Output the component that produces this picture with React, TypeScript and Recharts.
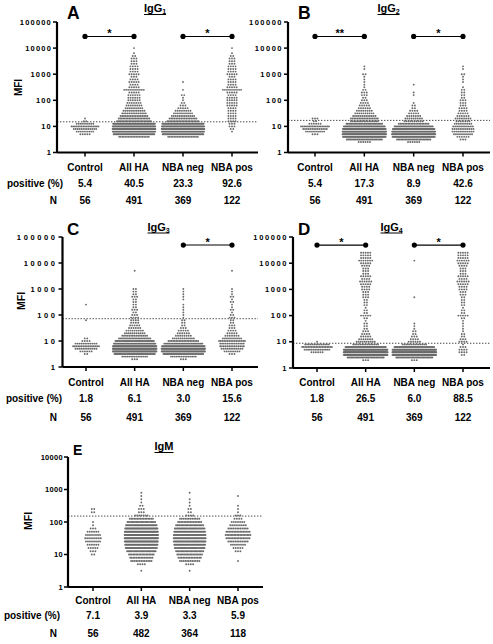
import React from 'react';
import { ScatterChart, Scatter, XAxis, YAxis, ReferenceLine, ReferenceDot } from 'recharts';

const FONT = '"Liberation Sans", Arial, Helvetica, sans-serif';

const CATEGORIES = ['Control', 'All HA', 'NBA neg', 'NBA pos'];

// Each group: log10(MFI) of the first row, then number of dots per 0.1-decade row
type Rows = { from: number; counts: number[] };

const IGG1_CONTROL: Rows = { from: 0.7, counts: [5, 9, 13, 17, 9, 2, 1] };
const IGG1_NBA_NEG: Rows = { from: 0.6, counts: [20, 45, 55, 60, 55, 48, 22, 17, 13, 10, 8, 5, 3, 2, 1, 1, 2, 0, 1, 0, 0, 1] };
const IGG1_NBA_POS: Rows = { from: 0.8, counts: [1, 2, 3, 3, 4, 4, 4, 4, 4, 4, 5, 5, 5, 5, 4, 5, 10, 5, 4, 4, 4, 3, 5, 4, 4, 4, 3, 3, 3, 2, 1, 0, 1] };

const IGG2_CONTROL: Rows = { from: 0.7, counts: [3, 10, 14, 18, 6, 2, 3] };
const IGG2_NBA_NEG: Rows = { from: 0.4, counts: [6, 25, 55, 70, 65, 50, 35, 20, 10, 9, 7, 5, 4, 2, 2, 1, 0, 0, 1, 1, 0, 0, 1] };
const IGG2_NBA_POS: Rows = { from: 0.5, counts: [3, 6, 10, 12, 12, 11, 9, 7, 8, 6, 5, 4, 4, 3, 3, 3, 2, 2, 2, 2, 1, 0, 1, 1, 1, 2, 0, 1, 1] };

const IGG3_CONTROL: Rows = { from: 0.5, counts: [2, 6, 12, 16, 12, 4, 2, 0, 0, 0, 0, 0, 0, 1, 0, 0, 0, 0, 0, 1] };
const IGG3_NBA_NEG: Rows = { from: 0.3, counts: [3, 15, 40, 70, 75, 60, 35, 20, 12, 8, 6, 5, 3, 2, 2, 2, 1, 1, 1, 1, 1, 1, 0, 1, 1, 1, 1, 1] };
const IGG3_NBA_POS: Rows = { from: 0.5, counts: [3, 8, 12, 14, 14, 16, 10, 7, 5, 4, 3, 3, 2, 2, 3, 2, 1, 2, 1, 1, 2, 1, 2, 1, 1, 1, 0, 0, 0, 0, 0, 0, 1] };

const IGG4_CONTROL: Rows = { from: 0.6, counts: [6, 15, 20, 14, 1] };
const IGG4_NBA_NEG: Rows = { from: 0.3, counts: [3, 30, 80, 100, 80, 40, 14, 6, 4, 3, 2, 2, 1, 1, 1, 0, 0, 0, 0, 0, 0, 0, 0, 0, 1, 0, 0, 0, 0, 0, 0, 0, 0, 0, 0, 0, 0, 0, 1] };
const IGG4_NBA_POS: Rows = { from: 0.5, counts: [2, 4, 4, 3, 1, 4, 3, 2, 2, 1, 1, 1, 1, 1, 2, 5, 2, 2, 1, 2, 2, 2, 2, 3, 3, 4, 4, 5, 6, 4, 5, 3, 3, 3, 4, 5, 6, 5, 5, 5] };

const IGM_CONTROL: Rows = { from: 1.0, counts: [2, 3, 5, 6, 8, 9, 8, 6, 3, 1, 1, 0, 0, 2, 2] };
const IGM_NBA_NEG: Rows = { from: 0.5, counts: [1, 0, 4, 12, 15, 18, 22, 28, 32, 36, 38, 36, 32, 28, 22, 16, 12, 4, 2, 2, 1, 1, 1, 0, 1] };
const IGM_NBA_POS: Rows = { from: 0.8, counts: [1, 0, 0, 3, 5, 8, 12, 16, 18, 16, 12, 9, 7, 4, 3, 1, 1, 1, 0, 0, 1] };

const IGG1_POSITIVE = ['5.4', '40.5', '23.3', '92.6'];
const IGG2_POSITIVE = ['5.4', '17.3', '8.9', '42.6'];
const IGG3_POSITIVE = ['1.8', '6.1', '3.0', '15.6'];
const IGG4_POSITIVE = ['1.8', '26.5', '6.0', '88.5'];
const IGM_POSITIVE = ['7.1', '3.9', '3.3', '5.9'];

const IGG_N = ['56', '491', '369', '122'];
const IGM_N = ['56', '482', '364', '118'];

const IGG1_CUTOFF = 15;
const IGG2_CUTOFF = 17;
const IGG3_CUTOFF = 72;
const IGG4_CUTOFF = 8.8;
const IGM_CUTOFF = 152;

type Sig = { from: number; to: number; label: string };
const IGG1_SIG: Sig[] = [{ from: 0, to: 1, label: '*' }, { from: 2, to: 3, label: '*' }];
const IGG2_SIG: Sig[] = [{ from: 0, to: 1, label: '**' }, { from: 2, to: 3, label: '*' }];
const IGG3_SIG: Sig[] = [{ from: 2, to: 3, label: '*' }];
const IGG4_SIG: Sig[] = [{ from: 0, to: 1, label: '*' }, { from: 2, to: 3, label: '*' }];
const IGM_SIG: Sig[] = [];

const IGG_TICKS = [1, 10, 100, 1000, 10000, 100000];
const IGM_TICKS = [1, 10, 100, 1000, 10000];

function rowsToList(rows: Rows): [number, number][] {
  return rows.counts.map((c, k) => [Math.round(rows.from * 10 + k) / 10, c] as [number, number]);
}

// All HA = NBA neg + NBA pos
function mergeRows(a: Rows, b: Rows): Rows {
  const m = new Map<number, number>();
  for (const [l, c] of [...rowsToList(a), ...rowsToList(b)]) {
    const key = Math.round(l * 10);
    m.set(key, (m.get(key) || 0) + c);
  }
  const keys = [...m.keys()];
  const lo = Math.min(...keys);
  const hi = Math.max(...keys);
  const counts: number[] = [];
  for (let k = lo; k <= hi; k++) counts.push(m.get(k) || 0);
  return { from: lo / 10, counts };
}

const NOMINAL = 2.6;

// beeswarm layout of one row: width grows with count and saturates at maxW
function swarm(rows: Rows, idx: number, pxPerUnit: number, maxW: number) {
  const pts: { x: number; y: number }[] = [];
  rowsToList(rows).forEach(([l, n]) => {
    if (!n) return;
    const width = maxW * (1 - Math.exp(-((n - 1) * NOMINAL) / maxW));
    const sp = n > 1 ? width / (n - 1) : 0;
    for (let j = 0; j < n; j++) {
      pts.push({ x: idx + ((j - (n - 1) / 2) * sp) / pxPerUnit, y: Math.pow(10, l) });
    }
  });
  return pts;
}

type PanelCfg = {
  box: { left: number; top: number; width: number; height: number };
  plot: { x0: number; x1: number; yT: number; yB: number };
  cats: [number, number];
  ticks: number[];
  groups: Rows[];
  cutoff: number;
  sig: Sig[];
  sigY: number;
  positive: string[];
  n: string[];
  labelY: [number, number, number];
  maxW: number;
  tickLS: number;
};

const PANELS: PanelCfg[] = [
  {
    box: { left: 0, top: 0, width: 262, height: 210 },
    plot: { x0: 57, x1: 258, yT: 22, yB: 152.5 },
    cats: [85, 232], ticks: IGG_TICKS,
    groups: [IGG1_CONTROL, IGG1_NBA_NEG, IGG1_NBA_POS],
    cutoff: IGG1_CUTOFF, sig: IGG1_SIG, sigY: 28000,
    positive: IGG1_POSITIVE, n: IGG_N, labelY: [167, 183, 200], maxW: 44, tickLS: 1.2,
  },
  {
    box: { left: 245, top: 0, width: 248, height: 210 },
    plot: { x0: 288, x1: 490, yT: 22, yB: 152.5 },
    cats: [315, 463], ticks: IGG_TICKS,
    groups: [IGG2_CONTROL, IGG2_NBA_NEG, IGG2_NBA_POS],
    cutoff: IGG2_CUTOFF, sig: IGG2_SIG, sigY: 28000,
    positive: IGG2_POSITIVE, n: IGG_N, labelY: [167, 183, 200], maxW: 44, tickLS: 1.5,
  },
  {
    box: { left: 0, top: 218, width: 262, height: 210 },
    plot: { x0: 62.5, x1: 258, yT: 237, yB: 367 },
    cats: [86, 232], ticks: IGG_TICKS,
    groups: [IGG3_CONTROL, IGG3_NBA_NEG, IGG3_NBA_POS],
    cutoff: IGG3_CUTOFF, sig: IGG3_SIG, sigY: 49000,
    positive: IGG3_POSITIVE, n: IGG_N, labelY: [382, 398, 417], maxW: 44, tickLS: 2.6,
  },
  {
    box: { left: 245, top: 218, width: 248, height: 210 },
    plot: { x0: 293, x1: 490, yT: 237, yB: 368 },
    cats: [317, 463], ticks: IGG_TICKS,
    groups: [IGG4_CONTROL, IGG4_NBA_NEG, IGG4_NBA_POS],
    cutoff: IGG4_CUTOFF, sig: IGG4_SIG, sigY: 49000,
    positive: IGG4_POSITIVE, n: IGG_N, labelY: [382, 398, 417], maxW: 44, tickLS: 1.6,
  },
  {
    box: { left: 0, top: 438, width: 268, height: 206 },
    plot: { x0: 68, x1: 263, yT: 457, yB: 587 },
    cats: [93, 238], ticks: IGM_TICKS,
    groups: [IGM_CONTROL, IGM_NBA_NEG, IGM_NBA_POS],
    cutoff: IGM_CUTOFF, sig: IGM_SIG, sigY: 1000,
    positive: IGM_POSITIVE, n: IGM_N, labelY: [600, 615, 633], maxW: 34, tickLS: 0.3,
  },
];

const Dot = (p: any) => <circle cx={p.cx} cy={p.cy} r={0.95} fill="#6a6a6a" />;

function Panel({ cfg }: { cfg: PanelCfg }) {
  const { box, plot } = cfg;
  const s = (cfg.cats[1] - cfg.cats[0]) / 3;
  const dmin = -(cfg.cats[0] - plot.x0) / s;
  const dmax = 3 + (plot.x1 - cfg.cats[1]) / s;
  const YW = 40;
  const XH = 30;
  const margin = {
    top: plot.yT - box.top,
    left: plot.x0 - box.left - YW,
    right: box.left + box.width - plot.x1,
    bottom: box.top + box.height - plot.yB - XH,
  };
  const allHA = mergeRows(cfg.groups[1], cfg.groups[2]);
  const groups = [cfg.groups[0], allHA, cfg.groups[1], cfg.groups[2]];
  const pts = groups.flatMap((g, i) => swarm(g, i, s, cfg.maxW));
  const yMax = cfg.ticks[cfg.ticks.length - 1];

  const catTick = (props: any) => {
    const { x, payload } = props;
    const i = payload.value as number;
    const common = { textAnchor: 'middle' as const, dominantBaseline: 'central' as const, fontFamily: FONT, fontWeight: 'bold' as const, fontSize: 10, fill: '#000' };
    return (
      <g>
        <text x={x} y={cfg.labelY[0] - box.top} {...common}>{CATEGORIES[i]}</text>
        <text x={x} y={cfg.labelY[1] - box.top} {...common}>{cfg.positive[i]}</text>
        <text x={x} y={cfg.labelY[2] - box.top} {...common}>{cfg.n[i]}</text>
      </g>
    );
  };

  const yTick = (props: any) => {
    const { x, y, payload } = props;
    return (
      <text x={x} y={y} textAnchor="end" dominantBaseline="central" fontFamily={FONT} fontWeight="bold" fontSize={7.5} letterSpacing={cfg.tickLS} fill="#000">
        {String(payload.value)}
      </text>
    );
  };

  return (
    <div style={{ position: 'absolute', left: box.left, top: box.top }}>
      <ScatterChart width={box.width} height={box.height} margin={margin}>
        <XAxis
          type="number" dataKey="x" domain={[dmin, dmax]} ticks={[0, 1, 2, 3]} interval={0}
          height={XH} allowDataOverflow
          axisLine={{ stroke: '#000', strokeWidth: 2.2 }}
          tickLine={{ stroke: '#000', strokeWidth: 1.5 }} tickSize={4}
          tick={catTick}
        />
        <YAxis
          type="number" dataKey="y" scale="log" domain={[1, yMax]} ticks={cfg.ticks} interval={0}
          width={YW} allowDataOverflow
          axisLine={{ stroke: '#000', strokeWidth: 2.2 }}
          tickLine={{ stroke: '#000', strokeWidth: 1.5 }} tickSize={4} tickMargin={1}
          tick={yTick}
        />
        <ReferenceLine y={cfg.cutoff} stroke="#333" strokeWidth={0.9} strokeDasharray="1.4 1.6" />
        <Scatter data={pts} isAnimationActive={false} shape={Dot} />
        {cfg.sig.map((sg, k) => (
          <ReferenceLine key={'s' + k} segment={[{ x: sg.from, y: cfg.sigY }, { x: sg.to, y: cfg.sigY }]} stroke="#000" strokeWidth={1.1} />
        ))}
        {cfg.sig.flatMap((sg, k) => [
          <ReferenceDot key={'da' + k} x={sg.from} y={cfg.sigY} r={2.6} fill="#000" stroke="none" />,
          <ReferenceDot key={'db' + k} x={sg.to} y={cfg.sigY} r={2.6} fill="#000" stroke="none" />,
          <ReferenceDot
            key={'dl' + k} x={(sg.from + sg.to) / 2} y={cfg.sigY} r={0}
            shape={(p: any) => (
              <text x={p.cx} y={p.cy + 1} textAnchor="middle" fontFamily={FONT} fontWeight="bold" fontSize={11} fill="#000">{sg.label}</text>
            )}
          />,
        ])}
      </ScatterChart>
    </div>
  );
}

const TITLES = [
  { cx: 155, base: 12, main: 'IgG', sub: '1' },
  { cx: 388.5, base: 12, main: 'IgG', sub: '2' },
  { cx: 158.5, base: 230.5, main: 'IgG', sub: '3' },
  { cx: 391.5, base: 230.5, main: 'IgG', sub: '4' },
  { cx: 164, base: 450, main: 'IgM', sub: '' },
];
const LETTERS = [
  { t: 'A', x: 67, y: 19.3, size: 17.5 },
  { t: 'B', x: 298, y: 19.3, size: 17.5 },
  { t: 'C', x: 67, y: 235, size: 17 },
  { t: 'D', x: 298, y: 235, size: 17 },
  { t: 'E', x: 73, y: 455, size: 14 },
];
const MFI_LABELS = [
  { x: 18.3, y: 87.5, size: 10 },
  { x: 21, y: 301, size: 10.5 },
  { x: 27.5, y: 521, size: 10.5 },
];
const ROW_HEADERS = [
  { posX: 63, posY: 183, nX: 57, nY: 200 },
  { posX: 62, posY: 398, nX: 57, nY: 417 },
  { posX: 60, posY: 615, nX: 57, nY: 633 },
];

export default function App() {
  return (
    <div style={{ position: 'absolute', left: 0, top: 0, width: 493, height: 644, background: '#fff', overflow: 'hidden' }}>
      {PANELS.map((p, i) => <Panel key={i} cfg={p} />)}
      <svg width={493} height={644} style={{ position: 'absolute', left: 0, top: 0, pointerEvents: 'none' }}>
        {TITLES.map((t, i) => {
          const w = t.sub ? 22 : 19;
          return (
            <g key={i}>
              <text x={t.cx} y={t.base} textAnchor="middle" fontFamily={FONT} fontWeight="bold" fontSize={11} fill="#000">
                {t.main}
                {t.sub ? <tspan fontSize={7} dy={2}>{t.sub}</tspan> : null}
              </text>
              <line x1={t.cx - w / 2} x2={t.cx + w / 2} y1={t.base + 2.5} y2={t.base + 2.5} stroke="#000" strokeWidth={1} />
            </g>
          );
        })}
        {LETTERS.map((l, i) => (
          <text key={i} x={l.x} y={l.y} fontFamily={FONT} fontWeight="bold" fontSize={l.size} fill="#000">{l.t}</text>
        ))}
        {MFI_LABELS.map((m, i) => (
          <text key={i} transform={`translate(${m.x},${m.y}) rotate(-90)`} textAnchor="middle" dominantBaseline="central" fontFamily={FONT} fontWeight="bold" fontSize={m.size} fill="#000">MFI</text>
        ))}
        {ROW_HEADERS.map((r, i) => (
          <g key={i}>
            <text x={r.posX} y={r.posY} textAnchor="end" dominantBaseline="central" fontFamily={FONT} fontWeight="bold" fontSize={10} fill="#000">positive (%)</text>
            <text x={r.nX} y={r.nY} textAnchor="end" dominantBaseline="central" fontFamily={FONT} fontWeight="bold" fontSize={10} fill="#000">N</text>
          </g>
        ))}
      </svg>
    </div>
  );
}
